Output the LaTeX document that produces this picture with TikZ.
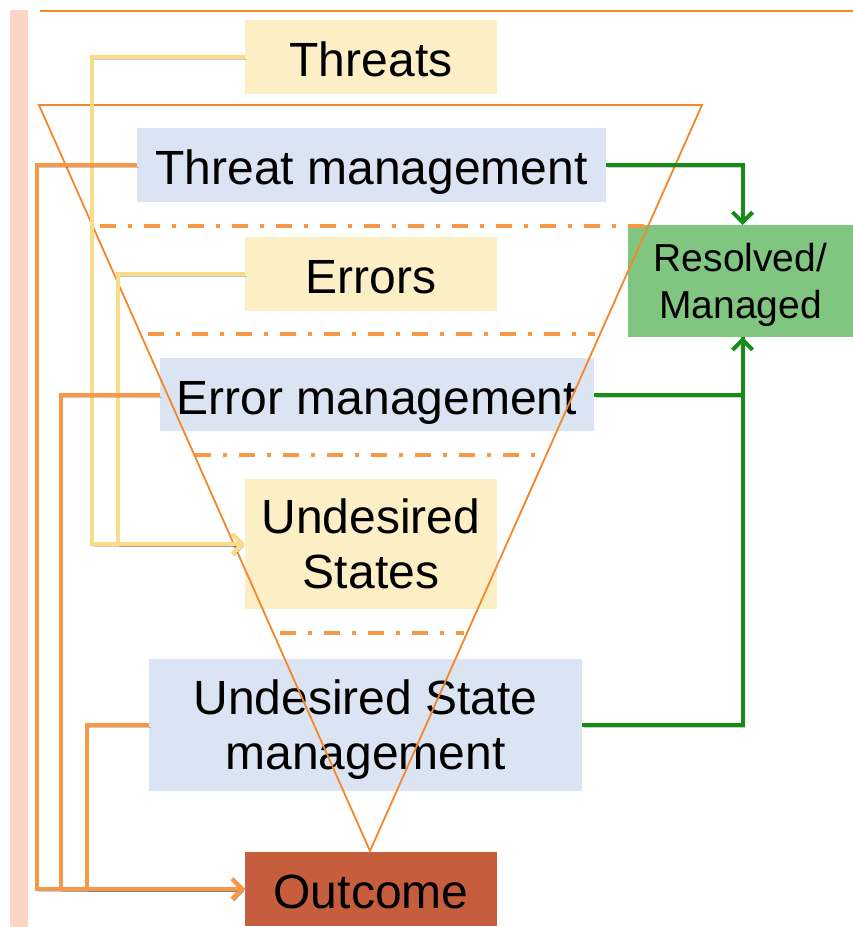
\documentclass[tikz,border=0pt]{standalone}
\usepackage{fontspec}
\setmainfont{Liberation Sans}
\usetikzlibrary{arrows.meta}
\definecolor{pinkbar}{RGB}{252,213,196}
\definecolor{triorange}{RGB}{245,135,40}
\definecolor{lineorange}{RGB}{247,152,72}
\definecolor{yfill}{RGB}{252,239,198}
\definecolor{bfill}{RGB}{219,228,243}
\definecolor{gfill}{RGB}{128,197,128}
\definecolor{rfill}{RGB}{198,94,62}
\definecolor{yline}{RGB}{248,220,135}
\definecolor{gline}{RGB}{22,140,22}
\begin{document}
\begin{tikzpicture}[x=1pt,y=-1pt,
  box/.style={inner sep=0pt, outer sep=0pt, align=center, text=black,
    font=\fontsize{48pt}{55pt}\selectfont},
  oneline/.style={text height=39pt, text depth=0pt},
  shadowed/.style={preaction={draw=black, opacity=0.2, transform canvas={shift={(1.5pt,-2.5pt)}}}},
  tip/.style={-{Straight Barb[length=10pt,width=20pt,line width=4pt]}},
  yconn/.style={draw=yline, line width=4pt, shadowed, tip},
  oconn/.style={draw=lineorange, line width=4pt, shadowed, tip},
  gconn/.style={draw=gline, line width=4pt, shadowed, tip},
  gplain/.style={draw=gline, line width=4pt, shadowed},
  sep/.style={draw=lineorange, line width=4pt, dash pattern=on 16pt off 12pt on 4pt off 12pt}
]
\useasboundingbox (0,0) rectangle (853,927);
\fill[white] (0,0) rectangle (853,927);
\fill[pinkbar] (10,10) rectangle (28,927);
\draw[triorange, line width=2pt] (40,11) -- (853,11);

% boxes
\node[box, oneline, fill=yfill, minimum width=252pt, minimum height=74pt] (threats) at (371,57) {Threats};
\node[box, oneline, fill=bfill, minimum width=469pt, minimum height=74pt] (tm) at (371.5,165) {Threat management};
\node[box, oneline, fill=yfill, minimum width=252pt, minimum height=74pt] (errors) at (371,274) {Errors};
\node[box, oneline, fill=bfill, minimum width=434pt, minimum height=73pt] (em) at (377,394.5) {Error management};
\node[box, fill=yfill, minimum width=252pt, minimum height=130pt] (us) at (371,544) {Undesired\\States};
\node[box, text depth=0pt, fill=bfill, minimum width=433pt, minimum height=132pt] (usm) at (365.5,725) {Undesired State\\management};
\node[box, oneline, fill=rfill, minimum width=252pt, minimum height=74pt] (outcome) at (371,889) {Outcome};
\node[box, text depth=0pt, fill=gfill, minimum width=225pt, minimum height=112pt,
  font=\fontsize{39pt}{47pt}\selectfont] (resolved) at (740.5,281) {Resolved/\\Managed};

% separators
\draw[sep] (100,226) -- (645,226);
\draw[sep] (148,334) -- (595,334);
\draw[sep] (195,455) -- (540,455);
\draw[sep] (280,633) -- (464,633);

% funnel
\draw[triorange, line width=1.8pt, line join=miter] (39,105) -- (702,105) -- (370,851) -- cycle;

% yellow connectors
\draw[yconn] (threats.west) -- ++(-153,0) |- (us.west);
\draw[yconn] (errors.west) -- ++(-127,0) |- (us.west);

% orange connectors
\draw[oconn] (tm.west) -- ++(-100,0) |- (outcome.west);
\draw[oconn] (em.west) -- ++(-99,0) |- (outcome.west);
\draw[oconn] (usm.west) -- ++(-62,0) |- (outcome.west);

% green connectors
\coordinate (rtop) at ([xshift=2pt]resolved.north);
\coordinate (rbot) at ([xshift=2pt]resolved.south);
\draw[gconn] (tm.east) -| (rtop);
\draw[gplain] (em.east) -| (rbot);
\draw[gconn] (usm.east) -| (rbot);
\end{tikzpicture}
\end{document}
